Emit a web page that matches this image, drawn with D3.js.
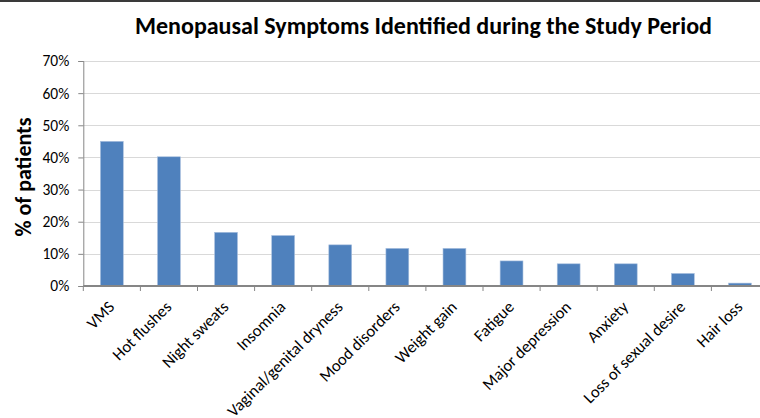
<!DOCTYPE html>
<html>
<head>
<meta charset="utf-8">
<script src="https://cdn.jsdelivr.net/npm/d3@7"></script>
<style>
  body { margin: 0; background: #fff; }
  text { font-family: Carlito, Lato, "Open Sans", sans-serif; fill: #000; }
</style>
</head>
<body>
<svg id="chart" width="760" height="418"></svg>
<script>
var symptoms = ['VMS', 'Hot flushes', 'Night sweats', 'Insomnia', 'Vaginal/genital dryness',
  'Mood disorders', 'Weight gain', 'Fatigue', 'Major depression', 'Anxiety',
  'Loss of sexual desire', 'Hair loss'];
var pctPatients = [45, 40.2, 16.7, 15.7, 12.8, 11.7, 11.7, 7.8, 6.9, 6.9, 3.9, 0.9];
var yTicks = [0, 10, 20, 30, 40, 50, 60, 70];

var svg = d3.select('#chart');
var plotLeft = 83.3, plotBottom = 286, plotTop = 61, plotRight = 768.5;

var x = d3.scaleBand().domain(symptoms).range([plotLeft, plotRight]);
var y = d3.scaleLinear().domain([0, 70]).range([plotBottom, plotTop]);

// frame line at the top
svg.append('rect').attr('x', 0).attr('y', 0).attr('width', 760).attr('height', 2).attr('fill', '#3a3a3a');

// gridlines
svg.append('g').selectAll('line')
  .data(yTicks.slice(1))
  .enter().append('line')
  .attr('x1', plotLeft).attr('x2', plotRight)
  .attr('y1', function(d) { return Math.round(y(d)) + 0.5; })
  .attr('y2', function(d) { return Math.round(y(d)) + 0.5; })
  .attr('stroke', '#d9d9d9').attr('stroke-width', 1);

// bars
var bw = x.bandwidth() * 0.4;
svg.append('g').selectAll('rect')
  .data(symptoms)
  .enter().append('rect')
  .attr('x', function(d) { return x(d) + (x.bandwidth() - bw) / 2; })
  .attr('y', function(d, i) { return y(pctPatients[i]); })
  .attr('width', bw)
  .attr('height', function(d, i) { return plotBottom - y(pctPatients[i]); })
  .attr('fill', '#4f81bd')
  .attr('stroke', '#a7bfde').attr('stroke-width', 0.6);

// y axis
var yAxis = svg.append('g')
  .attr('transform', 'translate(' + plotLeft + ',0)')
  .call(d3.axisLeft(y).tickValues(yTicks).tickSize(5).tickPadding(9)
    .tickFormat(function(d) { return d + '%'; }));
yAxis.select('.domain').attr('stroke', '#868686');
yAxis.selectAll('.tick line').attr('stroke', '#868686');
yAxis.selectAll('.tick text')
  .style('font-size', '15.5px').style('font-family', 'Carlito, Lato, sans-serif')
  .attr('fill', '#000');

// x axis: ticks on band boundaries
var xAxis = svg.append('g');
xAxis.append('line')
  .attr('x1', plotLeft).attr('x2', plotRight)
  .attr('y1', plotBottom).attr('y2', plotBottom)
  .attr('stroke', '#868686').attr('stroke-width', 2);
xAxis.selectAll('line.tk')
  .data(symptoms)
  .enter().append('line')
  .attr('class', 'tk')
  .attr('x1', function(d) { return x(d); })
  .attr('x2', function(d) { return x(d); })
  .attr('y1', plotBottom).attr('y2', plotBottom + 5)
  .attr('stroke', '#868686');
xAxis.selectAll('text')
  .data(symptoms)
  .enter().append('text')
  .attr('transform', function(d) {
    return 'translate(' + (x(d) + x.bandwidth() / 2 + 3.5) + ',' + (plotBottom + 22) + ') rotate(-45)';
  })
  .attr('text-anchor', 'end')
  .style('font-size', '16.5px')
  .text(function(d) { return d; });

// axis title, fitted to the reference length
var yTitle = svg.append('text')
  .attr('transform', 'translate(31,177) rotate(-90)')
  .attr('text-anchor', 'middle')
  .style('font-size', '17px').style('font-weight', 'bold')
  .text('% of patients');
var yw = yTitle.node().getComputedTextLength();
yTitle.style('font-size', (17 * 119 / yw).toFixed(2) + 'px');

// chart title, fitted to the reference width
var title = svg.append('text')
  .attr('x', 423.5).attr('y', 34)
  .attr('text-anchor', 'middle')
  .style('font-size', '21px').style('font-weight', 'bold')
  .text('Menopausal Symptoms Identified during the Study Period');
var tw = title.node().getComputedTextLength();
title.style('font-size', (21 * 577 / tw).toFixed(2) + 'px');
</script>
</body>
</html>
